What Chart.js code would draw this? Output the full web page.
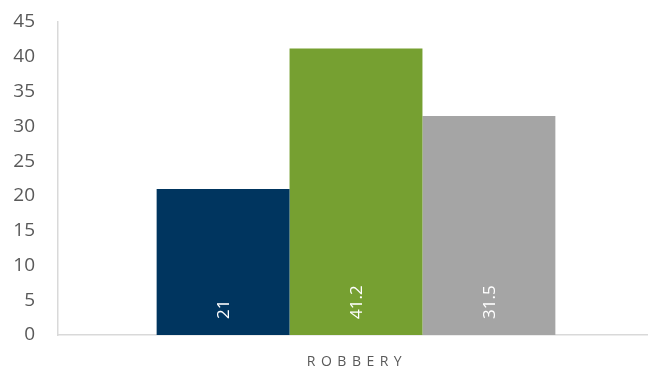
<!DOCTYPE html>
<html>
<head>
<meta charset="utf-8">
<script src="https://cdn.jsdelivr.net/npm/chart.js@4.4.1/dist/chart.umd.min.js"></script>
<style>
  html, body { margin: 0; padding: 0; background: #fff; }
  #wrap { width: 648px; height: 373px; overflow: hidden; }
  #caja { width: 654px; height: 373px; position: relative; }
</style>
</head>
<body>
<div id="wrap"><div id="caja"><canvas id="graficoRobo"></canvas></div></div>
<script>
var categorias = ["ROBBERY"];
var serieA = [21];
var serieB = [41.2];
var serieC = [31.5];
var colores = ['#00355F', '#76A031', '#A5A5A5'];

// etiquetas dentro de la barra, giradas, cerca de la base
var etiquetasBarra = {
    id: 'etiquetasBarra',
    afterDatasetsDraw: function (chart) {
        var ctx = chart.ctx;
        chart.data.datasets.forEach(function (ds, i) {
            chart.getDatasetMeta(i).data.forEach(function (bar, j) {
                ctx.save();
                ctx.translate(bar.x, bar.base - 16);
                ctx.rotate(-Math.PI / 2);
                ctx.fillStyle = '#ffffff';
                ctx.font = '17px "Open Sans"';
                ctx.textAlign = 'left';
                ctx.textBaseline = 'middle';
                ctx.fillText(String(ds.data[j]), 0, 1);
                ctx.restore();
            });
        });
    },
    afterDraw: function (chart) {
        // categoria con espaciado de letras
        var ctx = chart.ctx;
        var x = chart.scales.x;
        ctx.save();
        ctx.font = '14px "Open Sans"';
        ctx.fillStyle = '#595959';
        ctx.letterSpacing = '5.5px';
        ctx.textAlign = 'center';
        ctx.textBaseline = 'middle';
        categorias.forEach(function (c, k) {
            ctx.fillText(c, x.getPixelForValue(k) + 1, chart.chartArea.bottom + 27);
        });
        ctx.restore();
    }
};

var ctx = document.getElementById('graficoRobo').getContext('2d');
var chart = new Chart(ctx, {
    type: 'bar',
    data: {
        labels: categorias,
        datasets: [
            { label: 'A', data: serieA, backgroundColor: colores[0] },
            { label: 'B', data: serieB, backgroundColor: colores[1] },
            { label: 'C', data: serieC, backgroundColor: colores[2] }
        ]
    },
    options: {
        responsive: true,
        maintainAspectRatio: false,
        animation: false,
        layout: { padding: { top: 22, right: 0, left: 0, bottom: 0 } },
        plugins: {
            legend: { display: false },
            tooltip: { enabled: false }
        },
        datasets: {
            bar: { categoryPercentage: 0.669, barPercentage: 1, borderWidth: 0 }
        },
        scales: {
            x: {
                grid: { display: false },
                border: { display: true, color: '#D9D9D9', width: 1.5 },
                ticks: { display: false },
                afterFit: function (s) { s.height = 38; }
            },
            y: {
                min: 0,
                max: 45,
                grid: { display: false },
                border: { display: true, color: '#D9D9D9', width: 1.5 },
                ticks: {
                    stepSize: 5,
                    padding: 15,
                    color: '#595959',
                    font: { family: '"Open Sans"', size: 19 }
                },
                afterFit: function (s) {
                    s.width = 58;
                    s.paddingTop = 0;
                    s.paddingBottom = 0;
                }
            }
        }
    },
    plugins: [etiquetasBarra]
});
</script>
</body>
</html>
